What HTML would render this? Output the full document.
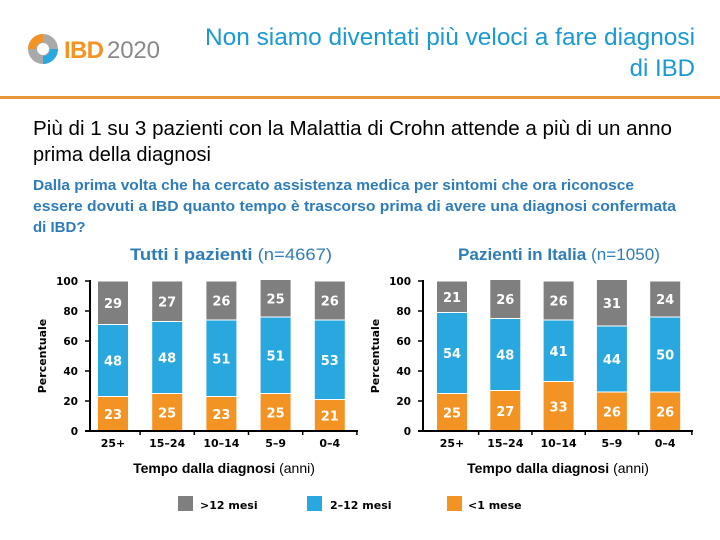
<!DOCTYPE html>
<html><head><meta charset="utf-8"><style>
body{margin:0;width:720px;height:540px;background:#fff;overflow:hidden}
svg{display:block}
text{font-family:"Liberation Sans",sans-serif}
.tk{font-family:"DejaVu Sans",sans-serif;font-weight:bold;font-size:10.5px;fill:#000}
.bl{font-family:"DejaVu Sans",sans-serif;font-weight:bold;font-size:13px;fill:#fff}
.cat{font-family:"DejaVu Sans",sans-serif;font-weight:bold;font-size:11px;fill:#000}
</style></head><body>
<svg id="s" width="720" height="540">
<g>
<circle cx="43" cy="49" r="15" fill="#a9a9a9"/>
<path d="M43 34 A15 15 0 0 0 28 49 L36 49 A7 7 0 0 1 43 42Z" fill="#f39324"/>
<path d="M58 49 A15 15 0 0 1 43 64 L43 56 A7 7 0 0 0 50 49Z" fill="#29a8e0"/>
<circle cx="43" cy="49" r="6" fill="#fff"/>
<text x="64" y="58" font-size="24" fill="#f39324" font-weight="bold" textLength="40">IBD</text>
<text x="107" y="58" font-size="24" fill="#8a8a8a" textLength="53">2020</text>
</g>
<text x="695" y="45" text-anchor="end" font-size="24" fill="#1a9ad0" textLength="490" lengthAdjust="spacingAndGlyphs">Non siamo diventati più veloci a fare diagnosi</text>
<text x="695" y="76" text-anchor="end" font-size="24" fill="#1a9ad0">di IBD</text>
<rect x="0" y="96" width="720" height="3" fill="#e8963a"/>
<text x="33" y="135" font-size="20" fill="#000" textLength="639" lengthAdjust="spacingAndGlyphs">Più di 1 su 3 pazienti con la Malattia di Crohn attende a più di un anno</text>
<text x="33" y="161" font-size="20" fill="#000">prima della diagnosi</text>
<g font-size="15" font-weight="bold" fill="#2f7db8">
<text x="33" y="190" textLength="601" lengthAdjust="spacingAndGlyphs">Dalla prima volta che ha cercato assistenza medica per sintomi che ora riconosce</text>
<text x="33" y="211" textLength="643" lengthAdjust="spacingAndGlyphs">essere dovuti a IBD quanto tempo è trascorso prima di avere una diagnosi confermata</text>
<text x="33" y="232">di IBD?</text>
</g>
<text x="130" y="260" font-size="17" fill="#2f7db8" textLength="202" lengthAdjust="spacingAndGlyphs"><tspan font-weight="bold">Tutti i pazienti</tspan> (n=4667)</text>
<text x="458" y="260" font-size="17" fill="#2f7db8" textLength="202" lengthAdjust="spacingAndGlyphs"><tspan font-weight="bold">Pazienti in Italia</tspan> (n=1050)</text>
<g id="legend">
<rect x="178" y="496" width="15" height="15" fill="#7f7f7f"/>
<text x="200" y="509" class="cat" font-size="13">&gt;12 mesi</text>
<rect x="307" y="496" width="15" height="15" fill="#29a8e0"/>
<text x="330" y="509" class="cat" font-size="13">2–12 mesi</text>
<rect x="447" y="496" width="15" height="15" fill="#f39324"/>
<text x="468" y="509" class="cat" font-size="13">&lt;1 mese</text>
</g>
</svg>
<script>
const categories=["25+","15–24","10–14","5–9","0–4"];
const leftUnder1=[23,25,23,25,21];
const left2to12=[48,48,51,51,53];
const leftOver12=[29,27,26,25,26];
const rightUnder1=[25,27,33,26,26];
const right2to12=[54,48,41,44,50];
const rightOver12=[21,26,26,31,24];
const yTicks=[0,20,40,60,80,100];
const NS="http://www.w3.org/2000/svg";
const svg=document.getElementById('s');
function mk(tag,attrs,parent){const e=document.createElementNS(NS,tag);for(const k in attrs)e.setAttribute(k,attrs[k]);(parent||svg).appendChild(e);return e;}
function chart(prefix,ax,axEnd,c0,step,series){
  const g=mk('g',{});
  
  
  const y=v=>431-v*1.5;
  const xc=i=>c0+i*step;
  const colors=["#f39324","#29a8e0","#7f7f7f"];
  const names=["under1","2to12","over12"];
  categories.forEach((c,i)=>{
    let base=0;
    series.forEach((arr,s)=>{
      const v=arr[i];
      const r=mk('rect',{x:xc(i)-15.5,y:y(base+v),width:31,height:v*1.5,fill:colors[s],stroke:'#fff','stroke-width':1},g);
      
      
      const t=mk('text',{x:xc(i),y:y(base+v/2)+5,'text-anchor':'middle',class:'bl'},g);
      t.textContent=v;
      
      
      base+=v;
    });
    const ct=mk('text',{x:xc(i),y:447,'text-anchor':'middle',class:'cat'},g);
    ct.textContent=c;
    
    
    mk('line',{x1:xc(i)+step/2,x2:xc(i)+step/2,y1:431,y2:435,stroke:'#000','stroke-width':1.5},g);
  });
  const ya=mk('line',{x1:ax,x2:ax,y1:280,y2:432,stroke:'#000','stroke-width':2},g);
  
  
  const xa=mk('line',{x1:ax-5,x2:axEnd,y1:431,y2:431,stroke:'#000','stroke-width':2},g);
  
  
  yTicks.forEach(t=>{
    mk('line',{x1:ax-5,x2:ax,y1:y(t),y2:y(t),stroke:'#000','stroke-width':1.5},g);
    const tl=mk('text',{x:ax-12,y:y(t)+4,'text-anchor':'end',class:'tk'},g);
    tl.textContent=t;
    
    
  });
  const yt=mk('text',{x:0,y:0,transform:`translate(${ax-44},356) rotate(-90)`,'text-anchor':'middle',class:'cat',fill:'#000'},g);
  yt.textContent='Percentuale';
  
  
  const xt=mk('text',{x:(ax+axEnd)/2,y:473,'text-anchor':'middle','font-size':14,fill:'#000'},g);
  xt.innerHTML='<tspan font-weight="bold">Tempo dalla diagnosi</tspan> (anni)';
  
  
}
chart('left',90,358,113,54.2,[leftUnder1,left2to12,leftOver12]);
chart('right',423,693,452,53.3,[rightUnder1,right2to12,rightOver12]);
</script>
</body></html>
